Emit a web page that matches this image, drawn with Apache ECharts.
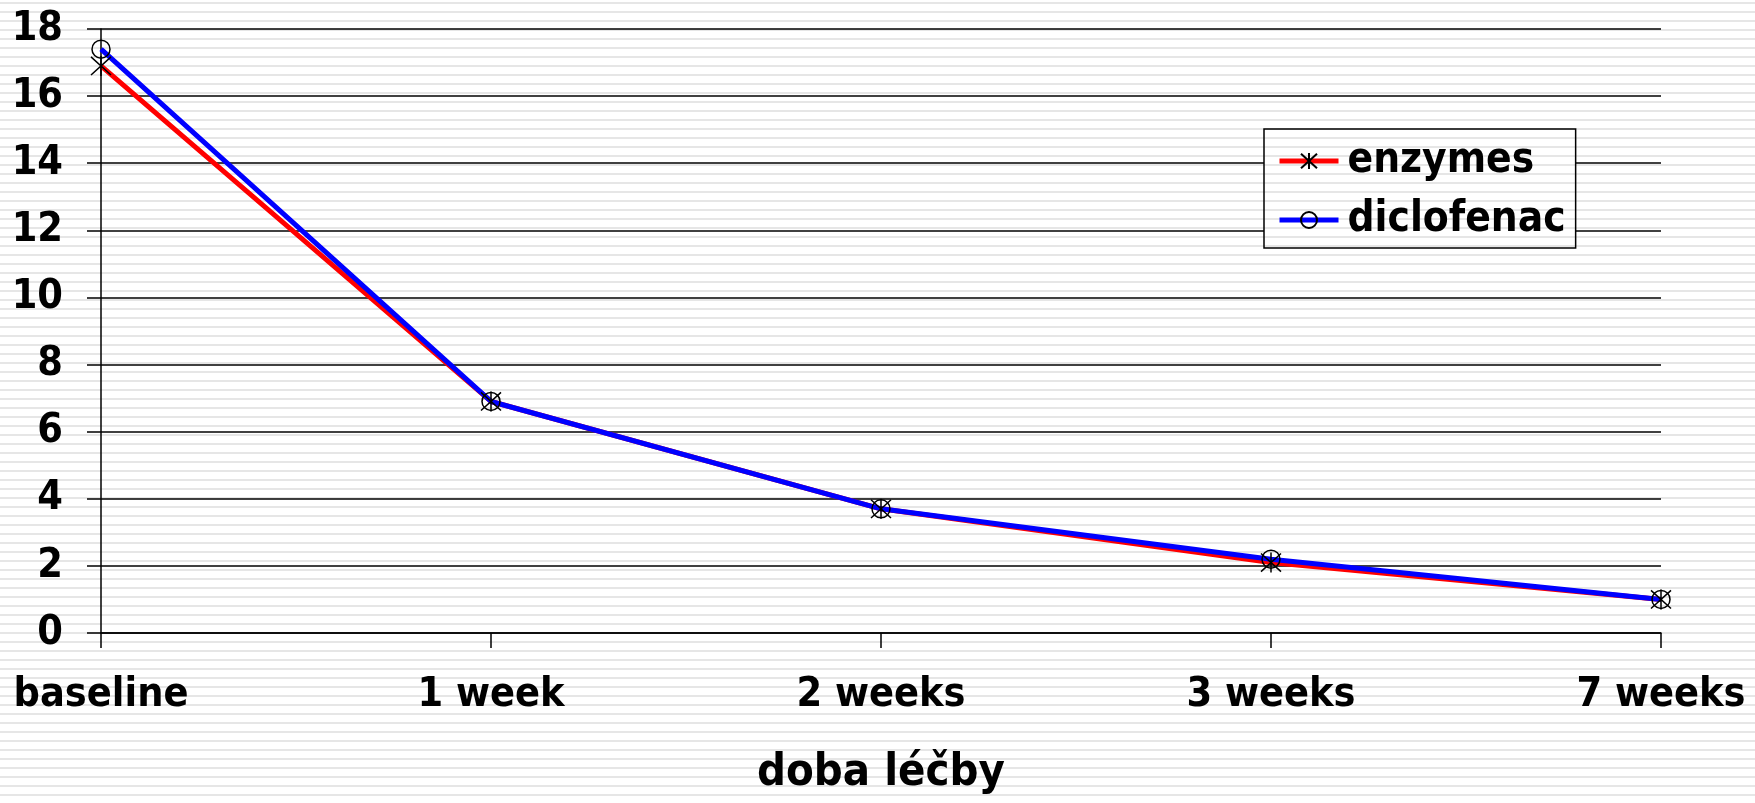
<!DOCTYPE html>
<html>
<head>
<meta charset="utf-8">
<script src="https://cdn.jsdelivr.net/npm/echarts@6/dist/echarts.min.js"></script>
<style>
html, body { margin: 0; padding: 0; }
body {
	width: 1755px; height: 803px;
	background: repeating-linear-gradient(to bottom, #fff 0, #fff 2px, #e6e6e6 2px, #e6e6e6 4px, #fff 4px, #fff 9px);
}
#chart_main { width: 1755px; height: 803px; }
</style>
</head>
<body>
<div id="chart_main"></div>
<script type="text/javascript">
// osa x - doba léčby
var categories = ['baseline', '1 week', '2 weeks', '3 weeks', '7 weeks'];
var enzymes = [16.9, 6.9, 3.7, 2.1, 1.0];
var diclofenac = [17.4, 6.9, 3.7, 2.2, 1.0];
var y_ticks = [0, 2, 4, 6, 8, 10, 12, 14, 16, 18];

var FONT = 'DejaVu Sans Condensed';
var STRIPE = 9;

// pruhovane pozadi i pro legendu (stejna faze jako stranka)
function stripePattern(originY) {
	var c = document.createElement('canvas');
	c.width = 4; c.height = STRIPE;
	var ctx = c.getContext('2d');
	ctx.fillStyle = '#fff';
	ctx.fillRect(0, 0, 4, STRIPE);
	ctx.fillStyle = '#e6e6e6';
	for (var r = 0; r < STRIPE; r++) {
		var py = ((r + originY) % STRIPE + STRIPE) % STRIPE;
		if (py >= 2 && py < 4) ctx.fillRect(0, r, 4, 1);
	}
	return { image: c, repeat: 'repeat' };
}

var legendLeft = 1264, legendTop = 129;
var legendPad = [11, 10, 7, 13];

var asterisk = 'path://M0,0L20,20M20,0L0,20M10,-1L10,21';

var myChart = echarts.init(document.getElementById('chart_main'), null, { renderer: 'canvas' });
var option = {
	animation: false,
	backgroundColor: 'transparent',
	textStyle: { fontFamily: FONT },
	grid: { left: 101, right: 94, top: 29, bottom: 170, containLabel: false },
	legend: {
		orient: 'vertical',
		left: legendLeft,
		top: legendTop,
		padding: legendPad,
		itemGap: 17,
		itemWidth: 59,
		itemHeight: 20,
		borderColor: '#000',
		borderWidth: 1.5,
		backgroundColor: stripePattern(legendTop + legendPad[0]),
		lineStyle: { width: 5 },
		textStyle: { fontFamily: FONT, fontWeight: 'bold', fontSize: 42, color: '#000', padding: [0, 0, 0, 4] },
		data: ['enzymes', 'diclofenac']
	},
	xAxis: {
		type: 'category',
		data: categories,
		boundaryGap: false,
		name: 'doba léčby',
		nameLocation: 'middle',
		nameGap: 118,
		nameTextStyle: { fontFamily: FONT, fontWeight: 'bold', fontSize: 45, color: '#000' },
		axisLine: { lineStyle: { color: '#000', width: 1.5 } },
		axisTick: { show: true, length: 15, lineStyle: { color: '#000', width: 1.5 } },
		axisLabel: { fontFamily: FONT, fontWeight: 'bold', fontSize: 41, color: '#000', margin: 42, interval: 0 },
		splitLine: { show: false }
	},
	yAxis: {
		type: 'value',
		min: y_ticks[0],
		max: y_ticks[y_ticks.length - 1],
		interval: 2,
		axisLine: { show: true, lineStyle: { color: '#000', width: 1.5 } },
		axisTick: { show: true, length: 14, lineStyle: { color: '#000', width: 1.5 } },
		axisLabel: { fontFamily: FONT, fontWeight: 'bold', fontSize: 41, color: '#000', margin: 38 },
		splitLine: { show: true, lineStyle: { color: '#000', width: 1.5 } }
	},
	series: [
		{
			name: 'enzymes',
			type: 'line',
			data: enzymes,
			symbol: asterisk,
			symbolSize: 20,
			lineStyle: { color: '#ff0000', width: 5 },
			itemStyle: { color: 'transparent', borderColor: '#000', borderWidth: 1.5 },
			emphasis: { disabled: true }
		},
		{
			name: 'diclofenac',
			type: 'line',
			data: diclofenac,
			symbol: 'circle',
			symbolSize: 18,
			lineStyle: { color: '#0000ff', width: 5 },
			itemStyle: { color: 'transparent', borderColor: '#000', borderWidth: 1.5 },
			emphasis: { disabled: true }
		}
	]
};
myChart.setOption(option);
</script>
</body>
</html>
